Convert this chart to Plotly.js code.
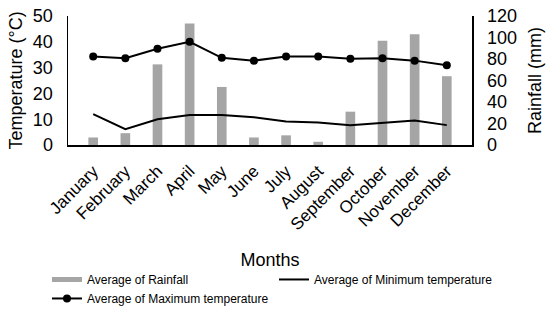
<!DOCTYPE html>
<html><head><meta charset="utf-8">
<script src="https://cdn.plot.ly/plotly-3.0.1.min.js"></script>
<style>html,body{margin:0;padding:0;background:#fff}#chart{width:550px;height:326px}</style>
</head><body><div id="chart"></div>
<script>
const months = ["January","February","March","April","May","June","July","August","September","October","November","December"];
const rainfall = [7, 11, 75, 113, 54, 7, 9, 3, 31, 97, 103, 64];
const minTemp = [12.0, 6.1, 10.0, 11.6, 11.6, 10.8, 9.1, 8.7, 7.7, 8.7, 9.5, 7.7];
const maxTemp = [34.3, 33.6, 37.3, 40.0, 33.8, 32.7, 34.3, 34.3, 33.4, 33.6, 32.7, 30.9];

const font = "Liberation Sans, Arial, sans-serif";
const barColor = '#a5a5a5';
const traces = [
  {type:'bar', x:months, y:rainfall, name:'Average of Rainfall', yaxis:'y', showlegend:false,
   marker:{color:barColor}, width:0.3},
  // legend entry for the bars (flat wide swatch like the original)
  {type:'scatter', mode:'lines', x:[null], y:[null], name:'Average of Rainfall', yaxis:'y2',
   line:{color:barColor, width:5}, hoverinfo:'skip'},
  {type:'scatter', mode:'lines', x:months, y:minTemp, name:'Average of Minimum temperature', yaxis:'y2',
   line:{color:'#000', width:2}},
  {type:'scatter', mode:'lines+markers', x:months, y:maxTemp, name:'Average of Maximum temperature', yaxis:'y2',
   line:{color:'#000', width:2}, marker:{color:'#000', size:8}}
];
const layout = {
  width:550, height:326,
  margin:{l:68, r:78, t:16, b:181},
  paper_bgcolor:'#fff', plot_bgcolor:'#fff',
  font:{family:font, color:'#000'},
  showlegend:true,
  legend:{orientation:'h', x:-0.052, y:-0.93, xanchor:'left', yanchor:'top',
          entrywidth:182, font:{size:12, family:font}, tracegroupgap:0},
  xaxis:{type:'category', showline:true, linecolor:'#000', linewidth:1.5, tickangle:-45, ticks:'',
         tickfont:{size:17}, ticklabelstandoff:8,
         title:{text:'Months', font:{size:18}, standoff:20}, automargin:false},
  yaxis:{side:'right', range:[0,120], dtick:20, showline:true, linecolor:'#000', linewidth:1.5, showgrid:false,
         zeroline:false, ticks:'', tickfont:{size:18}, ticklabelstandoff:10,
         title:{text:'Rainfall (mm)', font:{size:18}, standoff:12}, automargin:false},
  yaxis2:{side:'left', overlaying:'y', range:[0,50], dtick:10, showline:true, linecolor:'#000', linewidth:1.5,
         showgrid:false, zeroline:false, ticks:'', tickfont:{size:18}, ticklabelstandoff:10,
         title:{text:'Temperature (°C)', font:{size:18}}, automargin:false}
};
Plotly.newPlot('chart', traces, layout, {displayModeBar:false, staticPlot:true});
</script></body></html>
